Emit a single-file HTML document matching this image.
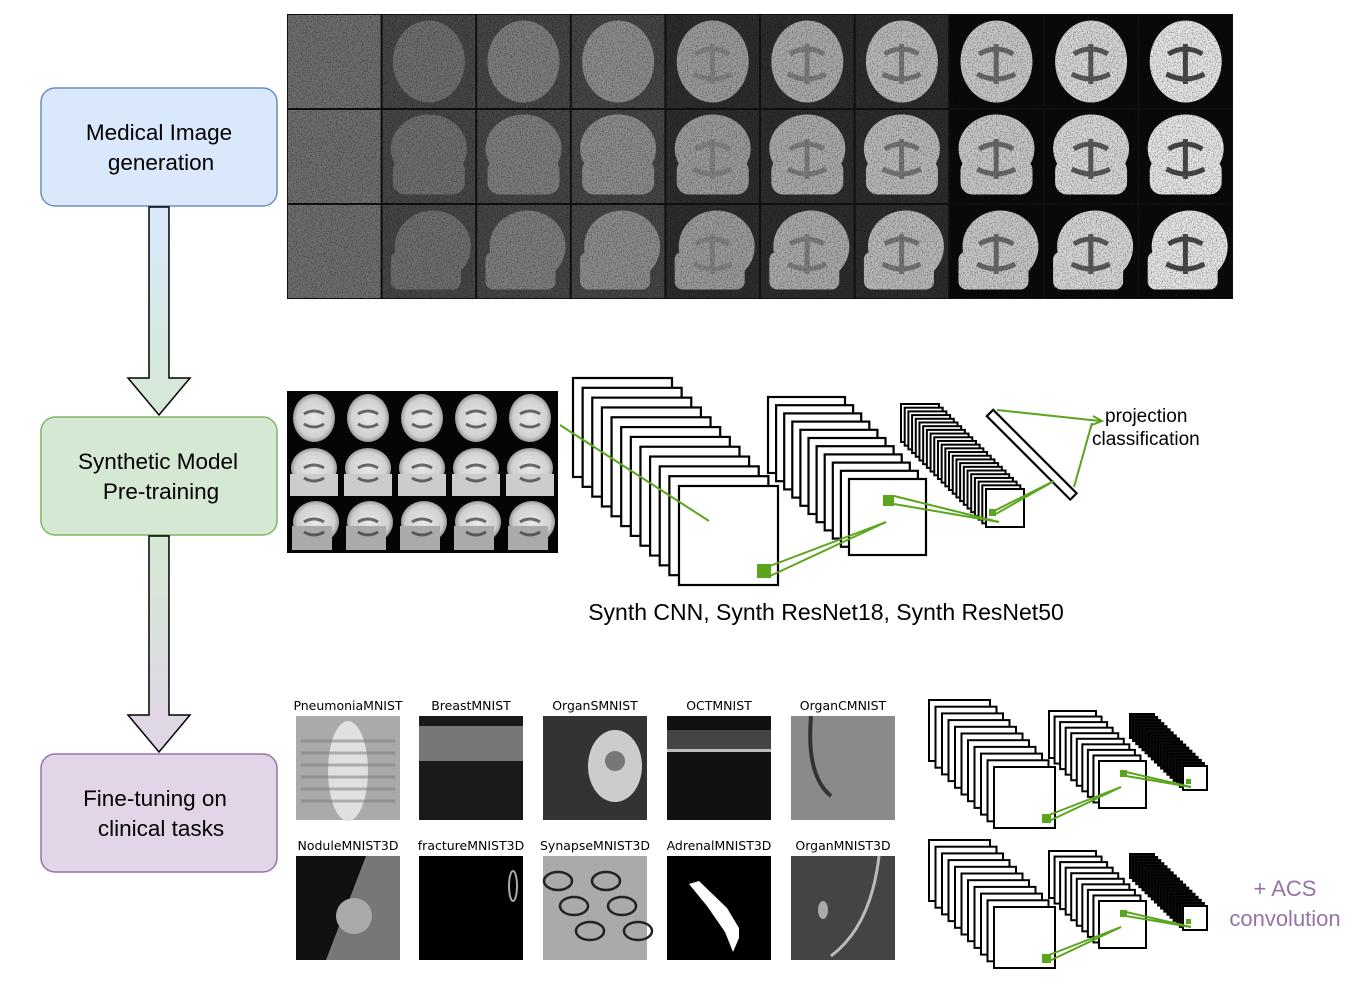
<!DOCTYPE html>
<html><head><meta charset="utf-8"><style>
html,body{margin:0;padding:0;background:#fff;}
svg{display:block;font-family:"Liberation Sans",Arial,sans-serif;}
</style></head><body>
<svg id="s" width="1358" height="989" viewBox="0 0 1358 989" xmlns="http://www.w3.org/2000/svg">
<defs>
<linearGradient id="g1" x1="0" y1="0" x2="0" y2="1"><stop offset="0" stop-color="#dae8fc"/><stop offset="1" stop-color="#d5e8d4"/></linearGradient>
<linearGradient id="g2" x1="0" y1="0" x2="0" y2="1"><stop offset="0" stop-color="#d5e8d4"/><stop offset="1" stop-color="#e1d5e7"/></linearGradient>
<filter id="noise" x="0" y="0" width="100%" height="100%"><feTurbulence type="fractalNoise" baseFrequency="0.8" numOctaves="1" seed="3"/><feColorMatrix type="matrix" values="0 0 0 0 0  0 0 0 0 0  0 0 0 0 0  -2 0 0 0 1.1"/></filter>
<radialGradient id="br"><stop offset="0" stop-color="#e8e8e8"/><stop offset="0.8" stop-color="#d0d0d0"/><stop offset="1" stop-color="#999"/></radialGradient>
</defs>

<rect x="41" y="88" width="236" height="118" rx="14" fill="#dae8fc" stroke="#6c8ebf" stroke-width="1.5"/>
<text x="159" y="140" font-size="22.5" text-anchor="middle">Medical Image</text>
<text x="161" y="170" font-size="22.5" text-anchor="middle">generation</text>
<rect x="41" y="417" width="236" height="118" rx="14" fill="#d5e8d4" stroke="#82b366" stroke-width="1.5"/>
<text x="158" y="469" font-size="22.5" text-anchor="middle">Synthetic Model</text>
<text x="161" y="499" font-size="22.5" text-anchor="middle">Pre-training</text>
<rect x="41" y="754" width="236" height="118" rx="14" fill="#e1d5e7" stroke="#9673a6" stroke-width="1.5"/>
<text x="155" y="806" font-size="22.5" text-anchor="middle">Fine-tuning on</text>
<text x="161" y="836" font-size="22.5" text-anchor="middle">clinical tasks</text>

<path d="M149 207 H169 V378 H190 L159 415 L128 378 H149 Z" fill="url(#g1)" stroke="#000" stroke-width="1.5"/>
<path d="M149 536 H169 V715 H190 L159 752 L128 715 H149 Z" fill="url(#g2)" stroke="#000" stroke-width="1.5"/>

<rect x="287" y="14" width="946" height="285" fill="#111"/>
<g id="topg"></g>
<rect x="287" y="14" width="946" height="285" filter="url(#noise)" opacity="0.6"/>

<rect x="287" y="391" width="271" height="162" fill="#050505"/>
<g id="bgrid"></g>

<g id="stacks"></g>
<g stroke="#5aa51c" stroke-width="2" fill="none">
<line x1="560" y1="425" x2="709" y2="521"/>
<line x1="770" y1="566" x2="886" y2="522"/><line x1="770" y1="576" x2="886" y2="522"/>
<line x1="894" y1="496" x2="999" y2="522"/><line x1="894" y1="504" x2="999" y2="522"/>
<line x1="994" y1="511" x2="1054" y2="481"/><line x1="994" y1="515" x2="1054" y2="481"/>
<line x1="997" y1="410" x2="1100" y2="421"/>
<line x1="1074" y1="487" x2="1092" y2="423"/>
<path d="M1093 416 L1102 421 L1092 425" />
</g>
<rect x="757" y="564" width="14" height="14" fill="#5aa51c"/>
<rect x="883" y="495" width="11" height="11" fill="#5aa51c"/>
<rect x="989" y="509" width="7" height="7" fill="#5aa51c"/>
<text x="1105" y="422" font-size="19">projection</text>
<text x="1092" y="445" font-size="19">classification</text>
<text x="826" y="620" font-size="23" text-anchor="middle">Synth CNN, Synth ResNet18, Synth ResNet50</text>

<g id="thumbs"></g>
<text x="1285" y="896" font-size="22" fill="#9673a6" text-anchor="middle">+ ACS</text>
<text x="1285" y="926" font-size="22" fill="#9673a6" text-anchor="middle">convolution</text>
</svg>
<script>
var NS="http://www.w3.org/2000/svg";
function el(p,t,a,txt){var e=document.createElementNS(NS,t);for(var k in a)e.setAttribute(k,a[k]);if(txt)e.textContent=txt;p.appendChild(e);return e;}
var tg=document.getElementById('topg');
var cw=94.6,rh=95;
for(var r=0;r<3;r++)for(var c=0;c<10;c++){
 var x=287+c*cw,y=14+r*rh;
 var b=c==0?110:(c<4?70:(c<7?45:10));
 el(tg,'rect',{x:x+1,y:y+1,width:cw-2,height:rh-2,fill:'rgb('+b+','+b+','+b+')'});
 if(c==0)continue;
 var v=Math.round(95+c*15);if(v>235)v=235;
 var col='rgb('+v+','+v+','+v+')';
 if(r==0) el(tg,'ellipse',{cx:x+cw/2,cy:y+rh/2,rx:36,ry:41,fill:col});
 else if(r==1){el(tg,'ellipse',{cx:x+cw/2,cy:y+rh/2-8,rx:38,ry:34,fill:col});el(tg,'rect',{x:x+cw/2-36,y:y+rh/2+2,width:72,height:36,rx:12,fill:col});}
 else {el(tg,'ellipse',{cx:x+cw/2+4,cy:y+rh/2-5,rx:38,ry:36,fill:col});el(tg,'rect',{x:x+cw/2-38,y:y+rh/2,width:70,height:38,rx:8,fill:col});}
 if(c>=4){var o=Math.min(0.2+(c-4)*0.12,0.8);
  el(tg,'path',{d:'M'+(x+30)+' '+(y+40)+' q17 -10 34 0 M'+(x+28)+' '+(y+60)+' q19 10 38 0 M'+(x+47)+' '+(y+30)+' v40',stroke:'#222','stroke-width':5,fill:'none',opacity:o});}
}
var bg=document.getElementById('bgrid');
for(var r=0;r<3;r++)for(var c=0;c<5;c++){
 var cx=287+27+c*54,cy=391+27+r*54;
 if(r==0){el(bg,'ellipse',{cx:cx,cy:cy,rx:21,ry:24,fill:'url(#br)'});}
 else if(r==1){el(bg,'ellipse',{cx:cx,cy:cy-4,rx:23,ry:20,fill:'url(#br)'});el(bg,'rect',{x:cx-24,y:cy+2,width:48,height:22,fill:'#ccc'});}
 else {el(bg,'ellipse',{cx:cx+2,cy:cy-4,rx:23,ry:21,fill:'url(#br)'});el(bg,'rect',{x:cx-22,y:cy,width:40,height:24,fill:'#aaa'});}
 el(bg,'path',{d:'M'+(cx-10)+' '+(cy-4)+' q10 -6 20 0 M'+(cx-10)+' '+(cy+6)+' q10 6 20 0',stroke:'#333','stroke-width':3,fill:'none',opacity:0.7});
}
var st=document.getElementById('stacks');
function stack(x0,y0,x1,y1,w,h,n,sw,dark){
 for(var i=0;i<n;i++){var t=i/(n-1);el(st,'rect',{x:x0+(x1-x0)*t,y:y0+(y1-y0)*t,width:w,height:h,fill:(dark&&i<n-1)?'#111':'#fff',stroke:'#000','stroke-width':sw});}
}
stack(573,378,679,486,99,99,12,2.2);
stack(768,397,849,479,77,76,11,2.2);
stack(901,404,986,489,38,38,24,2);
el(st,'rect',{x:-4.5,y:0,width:9,height:118,fill:'#fff',stroke:'#000','stroke-width':2.2,transform:'translate(990,413) rotate(-45)'});
for(var k=0;k<2;k++){
 var o=k*140;
 stack(929,700+o,994,767+o,61,61,11,2);
 stack(1049,711+o,1099,761+o,47,47,10,2);
 stack(1130,714+o,1183,766+o,24,24,18,2,true);
 var L=[[1049,815,1121,787],[1049,821,1121,787],[1126,772,1191,787],[1126,776,1191,787]];
 L.forEach(function(l){el(st,'line',{x1:l[0],y1:l[1]+o,x2:l[2],y2:l[3]+o,stroke:'#5aa51c','stroke-width':2});});
 el(st,'rect',{x:1042,y:814+o,width:9,height:9,fill:'#5aa51c'});
 el(st,'rect',{x:1120,y:770+o,width:7,height:7,fill:'#5aa51c'});
 el(st,'rect',{x:1186,y:779+o,width:5,height:5,fill:'#5aa51c'});
}
var th=document.getElementById('thumbs');
var names=[['PneumoniaMNIST','BreastMNIST','OrganSMNIST','OCTMNIST','OrganCMNIST'],['NoduleMNIST3D','fractureMNIST3D','SynapseMNIST3D','AdrenalMNIST3D','OrganMNIST3D']];
var cols=[348,471,595,719,843];
for(var r=0;r<2;r++)for(var c=0;c<5;c++){
 var x=cols[c]-52,y=716+r*140;
 el(th,'text',{x:cols[c],y:710+r*140,'font-size':12.5,'text-anchor':'middle','font-family':'DejaVu Sans'},names[r][c]);
 var id=r*5+c;
 if(id==0){el(th,'rect',{x:x,y:y,width:104,height:104,fill:'#aaa'});el(th,'ellipse',{cx:x+52,cy:y+55,rx:20,ry:50,fill:'#e0e0e0'});for(var q=0;q<6;q++)el(th,'line',{x1:x+5,y1:y+25+q*12,x2:x+99,y2:y+25+q*12,stroke:'#777','stroke-width':3,opacity:0.5});}
 else if(id==1){el(th,'rect',{x:x,y:y,width:104,height:104,fill:'#1a1a1a'});el(th,'rect',{x:x,y:y+10,width:104,height:35,fill:'#777'});}
 else if(id==2){el(th,'rect',{x:x,y:y,width:104,height:104,fill:'#333'});el(th,'ellipse',{cx:x+72,cy:y+50,rx:27,ry:36,fill:'#ccc'});el(th,'ellipse',{cx:x+72,cy:y+45,rx:10,ry:10,fill:'#777'});}
 else if(id==3){el(th,'rect',{x:x,y:y,width:104,height:104,fill:'#111'});el(th,'rect',{x:x,y:y+14,width:104,height:22,fill:'#444'});el(th,'rect',{x:x,y:y+33,width:104,height:3,fill:'#bbb'});}
 else if(id==4){el(th,'rect',{x:x,y:y,width:104,height:104,fill:'#8a8a8a'});el(th,'path',{d:'M'+(x+20)+' '+y+' Q'+(x+15)+' '+(y+60)+' '+(x+40)+' '+(y+80),stroke:'#333','stroke-width':4,fill:'none'});}
 else if(id==5){el(th,'rect',{x:x,y:y,width:104,height:104,fill:'#111'});el(th,'path',{d:'M'+(x+70)+' '+y+' L'+(x+104)+' '+y+' L'+(x+104)+' '+(y+104)+' L'+(x+30)+' '+(y+104)+' Z',fill:'#777'});el(th,'circle',{cx:x+58,cy:y+60,r:18,fill:'#aaa'});}
 else if(id==6){el(th,'rect',{x:x,y:y,width:104,height:104,fill:'#000'});el(th,'ellipse',{cx:x+94,cy:y+30,rx:4,ry:15,fill:'none',stroke:'#aaa','stroke-width':2});}
 else if(id==7){el(th,'rect',{x:x,y:y,width:104,height:104,fill:'#aaa'});for(var q=0;q<6;q++)el(th,'ellipse',{cx:x+15+q*16,cy:y+25+(q%3)*25,rx:14,ry:9,fill:'none',stroke:'#222','stroke-width':2.5});}
 else if(id==8){el(th,'rect',{x:x,y:y,width:104,height:104,fill:'#000'});el(th,'path',{d:'M'+(x+22)+' '+(y+28)+' L'+(x+32)+' '+(y+25)+' L'+(x+60)+' '+(y+52)+' L'+(x+72)+' '+(y+72)+' L'+(x+72)+' '+(y+82)+' L'+(x+66)+' '+(y+96)+' L'+(x+58)+' '+(y+76)+' L'+(x+40)+' '+(y+50)+' Z',fill:'#fff'});}
 else {el(th,'rect',{x:x,y:y,width:104,height:104,fill:'#444'});el(th,'path',{d:'M'+(x+88)+' '+y+' Q'+(x+80)+' '+(y+70)+' '+(x+40)+' '+(y+100),stroke:'#bbb','stroke-width':3,fill:'none'});el(th,'ellipse',{cx:x+32,cy:y+54,rx:5,ry:9,fill:'#aaa'});}
}
</script>
</body></html>
